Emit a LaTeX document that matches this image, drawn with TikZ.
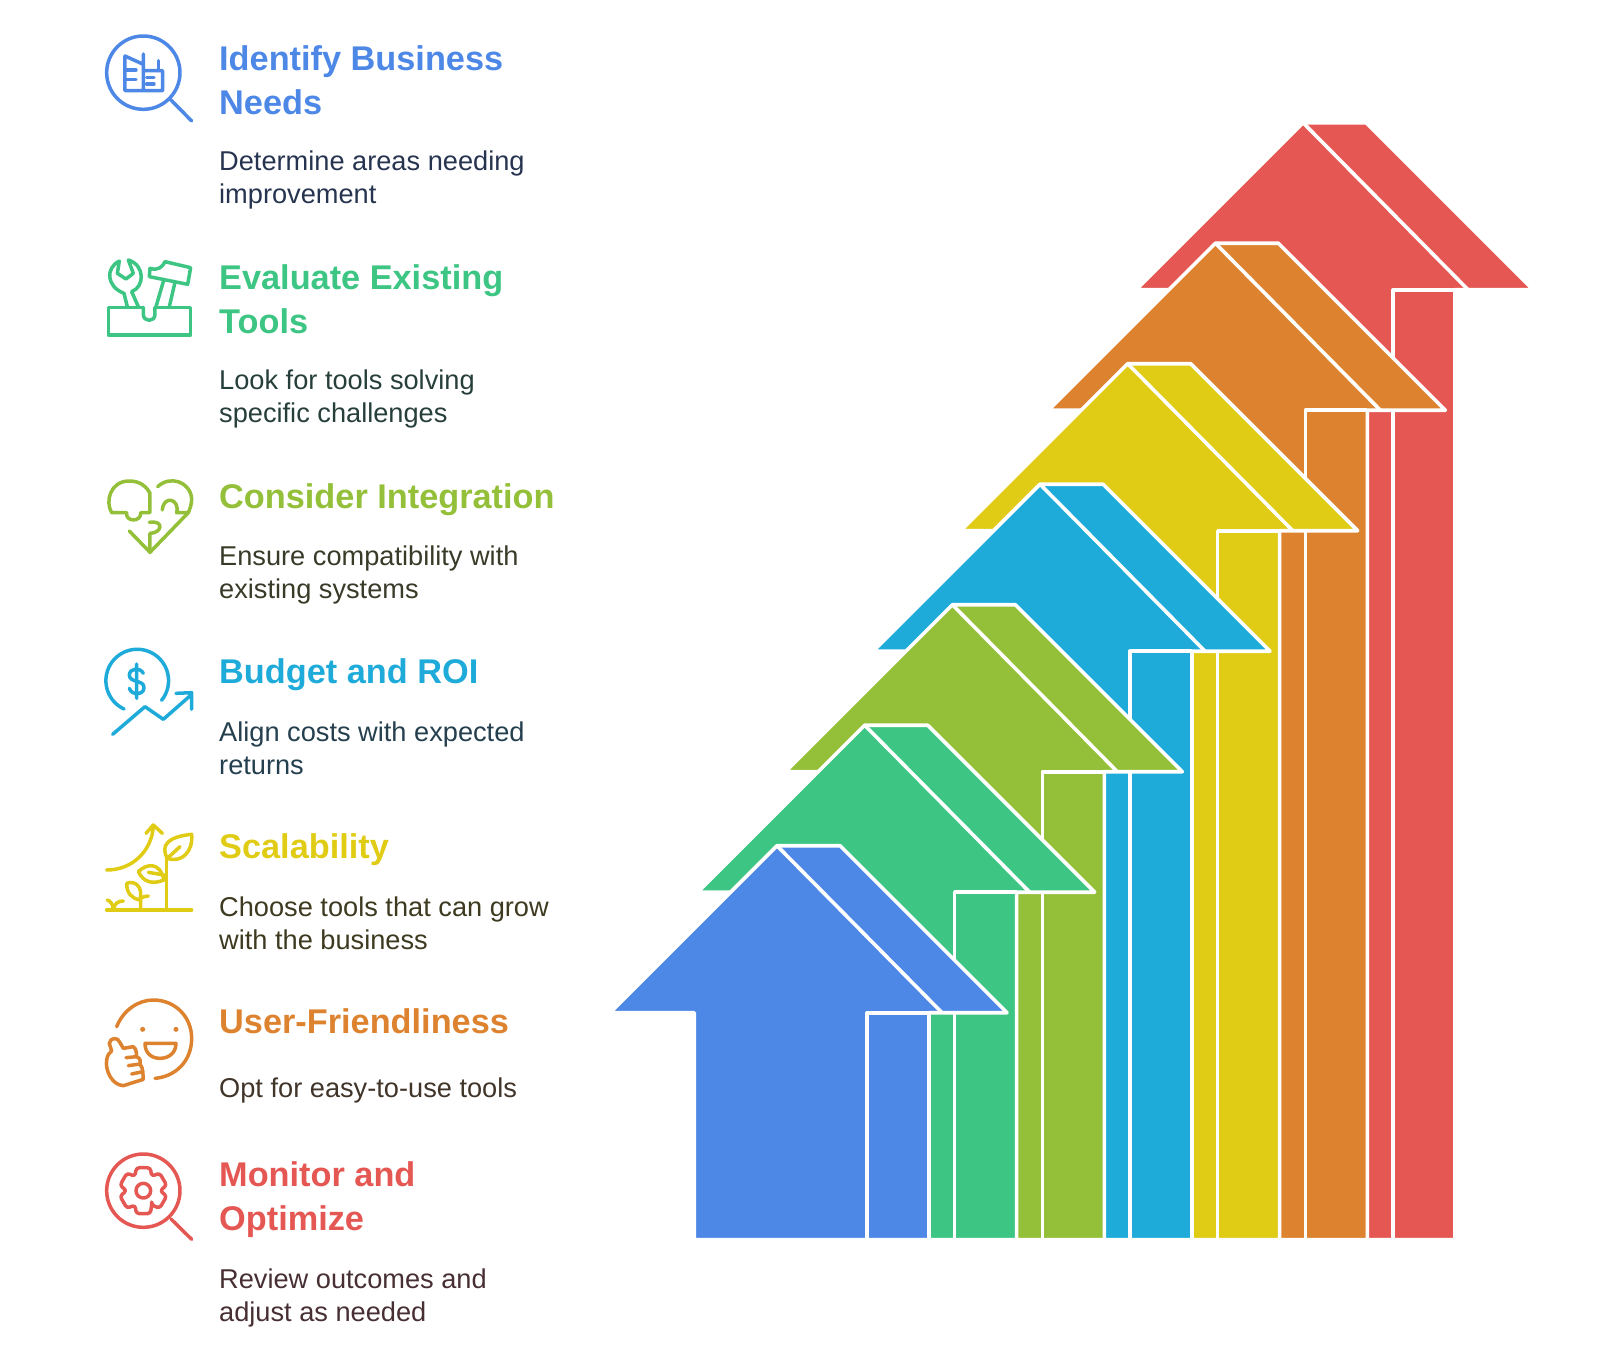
\documentclass[tikz,border=0pt]{standalone}
\usepackage{fontspec}
\setmainfont{Liberation Sans}
\usepackage{tikz}
\usetikzlibrary{positioning, calc}
\definecolor{toneblue}{HTML}{4E88E7}
\definecolor{tonegreen}{HTML}{3DC583}
\definecolor{toneolive}{HTML}{93BF39}
\definecolor{tonecyan}{HTML}{1EABDA}
\definecolor{toneyellow}{HTML}{E0CB15}
\definecolor{toneorange}{HTML}{DD8330}
\definecolor{tonered}{HTML}{E55753}
\definecolor{inkblue}{HTML}{263450}
\definecolor{inkgreen}{HTML}{273F3B}
\definecolor{inkolive}{HTML}{393A28}
\definecolor{inkcyan}{HTML}{243F4E}
\definecolor{inkyellow}{HTML}{3D3A20}
\definecolor{inkorange}{HTML}{41352A}
\definecolor{inkred}{HTML}{472F33}
\tikzset{
  heading/.style={anchor=base west, inner sep=0pt, align=left, font=\bfseries\fontsize{34.3}{44}\selectfont},
  blurb/.style={anchor=base west, inner sep=0pt, align=left, font=\fontsize{27.2}{32.5}\selectfont},
  icon/.style={line width=3.5pt, line cap=round, line join=round},
  face/.style={draw=white, line width=3.6pt, line join=round}
}

\begin{document}
\begin{tikzpicture}[x=1pt, y=-1pt]
    \useasboundingbox (0,0) rectangle (1600,1349);

    \foreach \i/\col in {6/tonered, 5/toneorange, 4/toneyellow, 3/tonecyan, 2/toneolive, 1/tonegreen, 0/toneblue} {
      \pgfmathsetmacro{\ax}{777+\i*87.67}
      \pgfmathsetmacro{\ay}{845.7-\i*120.5}
      \pgfmathsetmacro{\foot}{1239.7-\ay}
      \begin{scope}[shift={(\ax,\ay)}]
        \draw[face, fill=\col] (0,0) -- (-167,167) -- (-82.6,167) -- (-82.6,\foot) -- (152,\foot)
        -- (152,167) -- (230,167) -- (63,0) -- cycle;
        \draw[face] (0,0) -- (165,167);
        \draw[face] (90,\foot) -- (90,167) -- (152,167);
      \end{scope}
    }

    \node[heading, text=toneblue] (title-needs) at (219,114) {Identify Business\\Needs};
    \node[blurb, text=inkblue] (text-needs) at (219,203) {Determine areas needing\\improvement};
    \node[heading, text=tonegreen] (title-tools) at (219,333) {Evaluate Existing\\Tools};
    \node[blurb, text=inkgreen] (text-tools) at (219,422) {Look for tools solving\\specific challenges};
    \node[heading, text=toneolive] (title-integration) at (219,508) {Consider Integration};
    \node[blurb, text=inkolive] (text-integration) at (219,598) {Ensure compatibility with\\existing systems};
    \node[heading, text=tonecyan] (title-budget) at (219,683) {Budget and ROI};
    \node[blurb, text=inkcyan] (text-budget) at (219,774) {Align costs with expected\\returns};
    \node[heading, text=toneyellow] (title-scale) at (219,858) {Scalability};
    \node[blurb, text=inkyellow] (text-scale) at (219,949) {Choose tools that can grow\\with the business};
    \node[heading, text=toneorange] (title-user) at (219,1033) {User-Friendliness};
    \node[blurb, text=inkorange] (text-user) at (219,1097) {Opt for easy-to-use tools};
    \node[heading, text=tonered] (title-monitor) at (219,1230) {Monitor and\\Optimize};
    \node[blurb, text=inkred] (text-monitor) at (219,1321) {Review outcomes and\\adjust as needed};

    \begin{scope}[shift={(90,20)}, x=0.3333pt, y=-0.3333pt, draw=toneblue]
      \draw[icon] (160,158) circle (110) (243,240) -- (305,303);
      \draw[icon] (105,212) -- (105,108) -- (160,133) (160,102) -- (160,212) (105,212) -- (218,212) -- (218,152) -- (160,152);
      \draw[icon] (205,122) -- (205,152) (108,150) -- (138,150) (108,178) -- (138,178) (170,172) -- (192,172) (170,192) -- (192,192);
    \end{scope}

    \begin{scope}[shift={(90,245)}, x=0.3333pt, y=-0.3333pt, draw=tonegreen]
      \draw[icon] (160,187) -- (55,187) -- (55,270) -- (302,270) -- (302,187) -- (195,187);
      \draw[icon] (160,187) -- (160,208) .. controls (160,232) and (195,232) .. (195,208) -- (195,187);
      \draw[icon] (112,185) -- (102,145) .. controls (50,125) and (45,70) .. (88,48) -- (82,85) -- (108,102) -- (130,85) -- (115,45)
      .. controls (165,60) and (165,125) .. (125,140) -- (145,185);
      \draw[icon] (180,70) .. controls (205,78) and (218,65) .. (225,50) -- (302,68) -- (293,118) -- (178,95) -- cycle;
      \draw[icon] (222,103) -- (198,185) (255,112) -- (238,185);
    \end{scope}

    \begin{scope}[shift={(90,465)}, x=0.3333pt, y=-0.3333pt, draw=toneolive]
      \draw[icon] (65,143) .. controls (45,110) and (60,48) .. (118,48) .. controls (150,48) and (170,65) .. (180,85)
      -- (180,143) -- (152,143) .. controls (155,172) and (105,172) .. (110,143) -- cycle;
      \draw[icon] (203,65) .. controls (240,30) and (300,50) .. (305,100) .. controls (305,120) and (300,130) .. (295,143)
      -- (180,262) -- (118,198);
      \draw[icon] (295,143) -- (260,143) .. controls (270,100) and (220,90) .. (217,135);
      \draw[icon] (180,262) -- (180,205) .. controls (215,205) and (225,165) .. (178,172);
    \end{scope}

    \begin{scope}[shift={(90,640)}, x=0.3333pt, y=-0.3333pt, draw=tonecyan]
      \draw[icon] (102,207) arc (115:399:94);
      \draw[icon] (140,72) -- (140,175) (160,100) .. controls (150,80) and (118,85) .. (118,105) .. controls (118,130) and (162,118) .. (162,143)
      .. controls (162,165) and (125,168) .. (118,145);
      \draw[icon] (68,283) -- (165,200) -- (220,238) -- (303,165) (258,160) -- (305,158) -- (305,208);
    \end{scope}

    \begin{scope}[shift={(90,815)}, x=0.3333pt, y=-0.3333pt, draw=toneyellow]
      \draw[icon] (50,285) -- (305,285) (230,285) -- (230,130);
      \draw[icon] (232,130) .. controls (210,90) and (235,65) .. (305,58) .. controls (310,110) and (275,145) .. (232,130) -- (270,95);
      \draw[icon] (145,170) .. controls (170,145) and (210,140) .. (222,195) .. controls (185,210) and (160,200) .. (145,170);
      \draw[icon] (175,172) -- (222,180);
      \draw[icon] (110,205) .. controls (135,195) and (160,215) .. (150,255) .. controls (125,250) and (110,235) .. (110,205);
      \draw[icon] (152,285) -- (152,250) .. controls (155,245) and (165,245) .. (175,243);
      \draw[icon] (70,285) .. controls (70,270) and (62,258) .. (52,255) (70,285) .. controls (72,265) and (85,258) .. (100,258);
      \draw[icon] (50,165) .. controls (130,165) and (185,105) .. (190,35) (168,55) -- (190,30) -- (217,55);
    \end{scope}

    \begin{scope}[shift={(90,990)}, x=0.3333pt, y=-0.3333pt, draw=toneorange, fill=toneorange]
      \draw[icon, fill=none] (80,110) .. controls (100,60) and (145,30) .. (190,30) .. controls (255,30) and (305,80) .. (305,145)
      .. controls (305,215) and (255,260) .. (195,265);
      \fill (158,118) circle (7.5) (258,118) circle (7.5);
      \draw[icon, fill=none] (165,160) -- (258,160) .. controls (258,190) and (235,205) .. (210,205) .. controls (185,205) and (165,190) .. (165,160) -- cycle;
      \draw[icon, fill=none] (65,183) -- (58,160) .. controls (60,142) and (85,140) .. (90,158) -- (100,175) -- (130,170)
      .. controls (142,178) and (138,195) .. (140,200) .. controls (155,205) and (150,220) .. (150,222)
      .. controls (162,235) and (158,262) .. (160,268) -- (100,287) .. controls (65,285) and (45,240) .. (50,210) .. controls (52,195) and (58,188) .. (65,183);
      \draw[icon, fill=none] (108,203) -- (140,200) (115,227) -- (150,222) (125,252) -- (158,245);
    \end{scope}

    \begin{scope}[shift={(90,1145)}, x=0.3333pt, y=-0.3333pt, draw=tonered]
      \draw[icon] (160,137) circle (110) (243,222) -- (305,283);
      \draw[icon] (160,137) circle (22);
      \begin{scope}[shift={(160,137)}]
        \draw[icon, rounded corners=3pt] (60:50) \foreach \a in {90,150,...,390} { -- (\a-17:72) -- (\a+17:72) -- (\a+30:50) } -- cycle;
      \end{scope}
    \end{scope}
\end{tikzpicture}
\end{document}
